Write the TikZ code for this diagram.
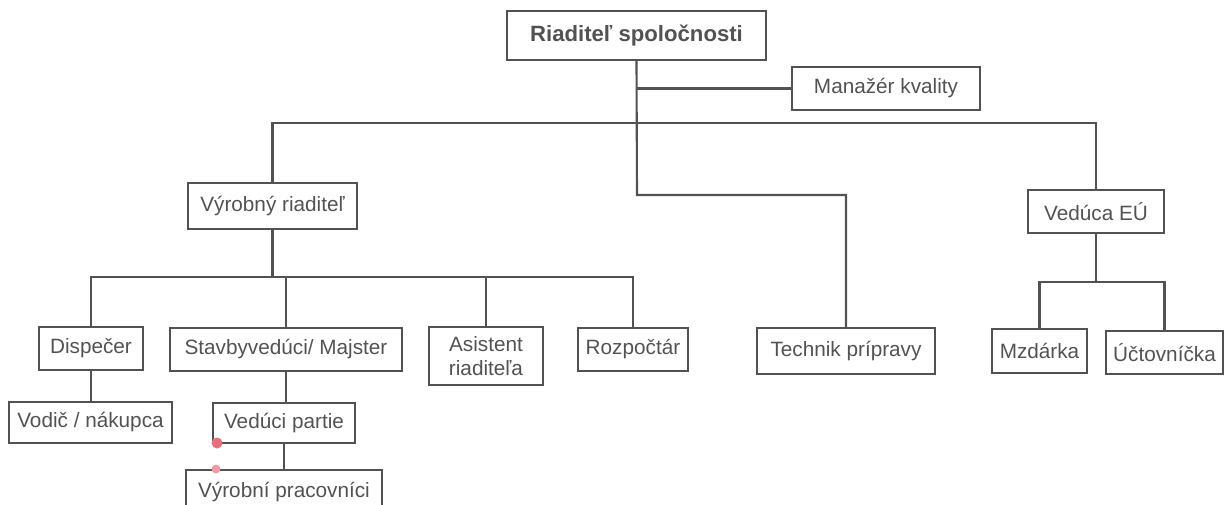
\documentclass[tikz,border=0pt]{standalone}
\usepackage{fontspec}
\setmainfont{Liberation Sans}
\definecolor{ink}{gray}{0.32}
\definecolor{speck}{RGB}{232,112,124}
\tikzset{mybox/.style={draw=ink,text=ink,line width=0.6pt,inner sep=0pt,align=center,font=\fontsize{5.9}{7}\selectfont}}
\tikzset{myline/.style={ink,line width=0.6pt}}

\begin{document}
\begin{tikzpicture}
	\useasboundingbox (0,0) rectangle (12.26,-5.05);
	\clip (0,0) rectangle (12.26,-5.05);

	\node[mybox,minimum width=2.59cm,minimum height=0.49cm,font=\fontsize{6.3}{7.3}\selectfont\bfseries] (boss) at (6.365,-0.355) {Riaditeľ spoločnosti};
	\node[mybox,minimum width=1.88cm,minimum height=0.43cm] (quality) at (8.86,-0.885) {Manažér kvality};

	\node[mybox,minimum width=1.69cm,minimum height=0.46cm] (prod) at (2.725,-2.06) {Výrobný riaditeľ};
	\node[mybox,minimum width=1.36cm,minimum height=0.43cm] (econ) at (10.96,-2.115) {Vedúca EÚ};

	\node[mybox,minimum width=1.04cm,minimum height=0.43cm] (disp) at (0.91,-3.485) {Dispečer};
	\node[mybox,minimum width=2.32cm,minimum height=0.43cm] (site) at (2.86,-3.495) {Stavbyvedúci/ Majster};
	\node[mybox,minimum width=1.14cm,minimum height=0.58cm] (asst) at (4.86,-3.56) {Asistent\\riaditeľa};
	\node[mybox,minimum width=1.1cm,minimum height=0.43cm] (budget) at (6.33,-3.495) {Rozpočtár};
	\node[mybox,minimum width=1.78cm,minimum height=0.46cm] (tech) at (8.46,-3.51) {Technik prípravy};
	\node[mybox,minimum width=0.95cm,minimum height=0.44cm] (payroll) at (10.395,-3.51) {Mzdárka};
	\node[mybox,minimum width=1.17cm,minimum height=0.43cm] (acct) at (11.645,-3.525) {Účtovníčka};

	\node[mybox,minimum width=1.63cm,minimum height=0.41cm] (driver) at (0.905,-4.225) {Vodič / nákupca};
	\node[mybox,minimum width=1.42cm,minimum height=0.40cm] (foreman) at (2.84,-4.23) {Vedúci partie};
	\node[mybox,minimum width=1.96cm,minimum height=0.44cm] (workers) at (2.84,-4.92) {Výrobní pracovníci};

	\coordinate (bar) at (6.37,-1.23);
	\coordinate (bend) at (6.37,-1.95);
	\coordinate (prodbar) at (2.725,-2.77);
	\coordinate (econbar) at (10.96,-2.82);

	\draw[myline] (boss.south) -- (bend) -| (tech.north); % trunk
	\draw[myline] (boss.south |- quality.west) -- (quality.west);
	\draw[myline] (prod.north) |- (bar) -| (econ.north);

	\draw[myline] (prod.south) -- (prodbar);
	\draw[myline] (disp.north) |- (prodbar) -| (budget.north);
	\draw[myline] (site.north) -- (site.north |- prodbar);
	\draw[myline] (asst.north) -- (asst.north |- prodbar);

	\draw[myline] (econ.south) -- (econbar);
	\draw[myline] (payroll.north) |- (econbar) -| (acct.north);

	\draw[myline] (disp.south) -- (disp.south |- driver.north);
	\draw[myline] (site.south) -- (site.south |- foreman.north);
	\draw[myline] (foreman.south) -- (workers.north);

	\fill[speck] (2.17,-4.43) circle (0.055);
	\fill[speck!70] (2.16,-4.69) circle (0.045);
\end{tikzpicture}
\end{document}
